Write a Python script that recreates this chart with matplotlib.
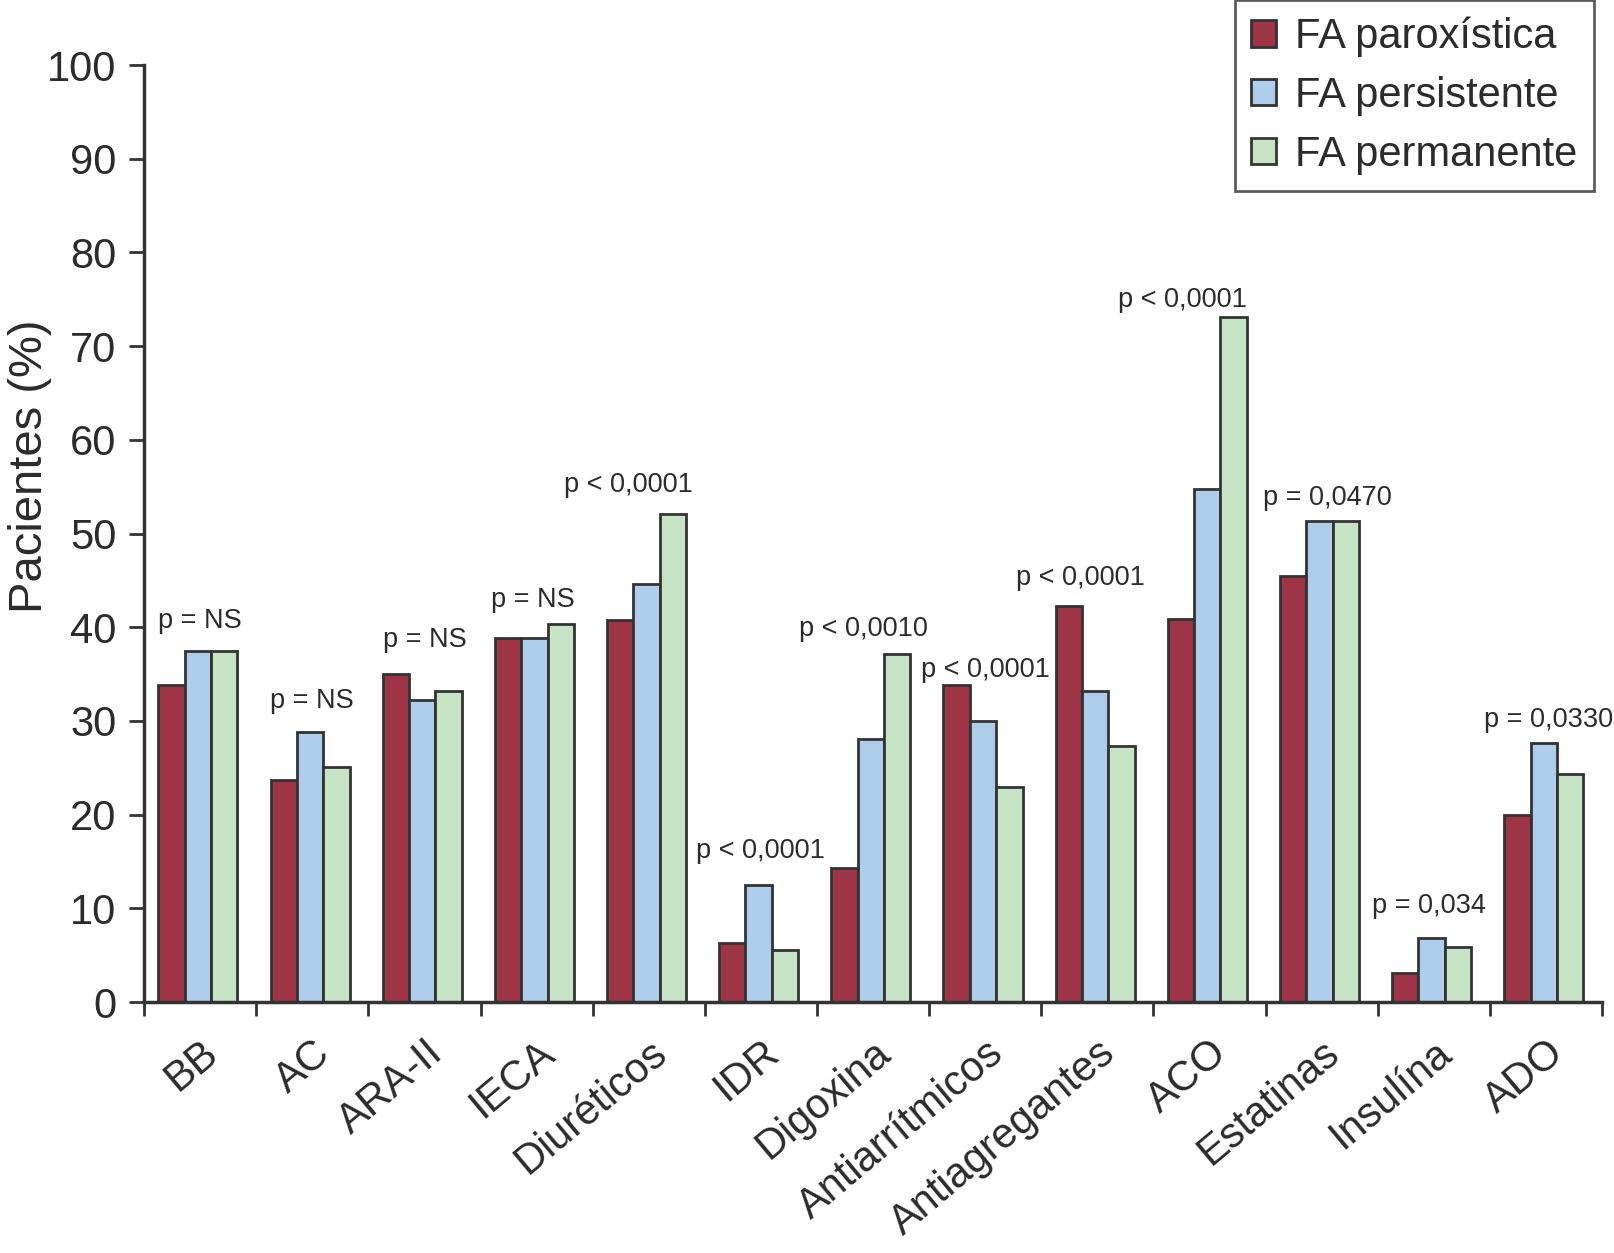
import numpy as np
import matplotlib
matplotlib.use("Agg")
import matplotlib.pyplot as plt

plt.rcParams["font.family"] = ["Liberation Sans", "DejaVu Sans"]

categories = ["BB", "AC", "ARA-II", "IECA", "Diuréticos", "IDR", "Digoxina",
              "Antiarrítmicos", "Antiagregantes", "ACO", "Estatinas", "Insulína", "ADO"]
series_names = ["FA paroxística", "FA persistente", "FA permanente"]
paroxistica = [33.8, 23.7, 35.0, 38.8, 40.8, 6.3, 14.3, 33.8, 42.3, 40.9, 45.5, 3.1, 20.0]
persistente = [37.5, 28.8, 32.2, 38.8, 44.6, 12.5, 28.1, 30.0, 33.2, 54.7, 51.3, 6.8, 27.6]
permanente = [37.5, 25.1, 33.2, 40.3, 52.1, 5.5, 37.1, 23.0, 27.3, 73.1, 51.3, 5.9, 24.3]
p_labels = ["p = NS", "p = NS", "p = NS", "p = NS", "p < 0,0001", "p < 0,0001",
            "p < 0,0010", "p < 0,0001", "p < 0,0001", "p < 0,0001", "p = 0,0470",
            "p = 0,034", "p = 0,0330"]

colors = ["#9E3547", "#AECDEB", "#C6E3C5"]
edge = "#333333"
text_col = "#2b2b2b"

# nudges for the p-value labels (x in category units, y in % above tallest bar)
label_dx = [0, 0, 0, -0.03, -0.18, 0, -0.09, 0, -0.15, -0.24, 0.05, -0.04, 0.02]
label_dy = [3.2, 3.3, 3.6, 2.6, 3.1, 3.6, 2.7, 1.6, 3.0, 1.8, 2.5, 3.4, 2.5]

fig = plt.figure(figsize=(16.15, 12.53), dpi=100)
ax = fig.add_axes([0.0892, 0.2003, 0.9028, 0.7478])

x = np.arange(len(categories))
w = 0.235
for i, vals in enumerate([paroxistica, persistente, permanente]):
    ax.bar(x + (i - 1) * w - 0.02, vals, width=w, color=colors[i], edgecolor=edge,
           linewidth=2.0, label=series_names[i], zorder=2)

tops = np.max([paroxistica, persistente, permanente], axis=0)
for i, lab in enumerate(p_labels):
    ax.text(x[i] + label_dx[i], tops[i] + label_dy[i], lab, ha="center", va="center",
            fontsize=19.5, color=text_col)

ax.set_xlim(-0.5, len(categories) - 0.5)
ax.set_ylim(0, 100)
ax.set_yticks(np.arange(0, 101, 10))
ax.tick_params(axis="y", labelsize=30, length=11, width=2, colors=edge,
               labelcolor=text_col, pad=9)

ax.set_xticks(np.arange(-0.5, len(categories), 1.0))
ax.set_xticklabels([])
ax.tick_params(axis="x", which="major", length=10, width=2, colors=edge)
ax.set_xticks(x, minor=True)
ax.set_xticklabels(categories, minor=True, rotation=40, ha="right",
                   rotation_mode="anchor", fontsize=30, color=text_col)
ax.tick_params(axis="x", which="minor", length=0, pad=22)

for s in ["top", "right"]:
    ax.spines[s].set_visible(False)
for s in ["left", "bottom"]:
    ax.spines[s].set_linewidth(2.5)
    ax.spines[s].set_color(edge)

ax.set_ylabel("Pacientes (%)", fontsize=34, color=text_col)
ax.yaxis.set_label_coords(-0.063, 0.572)

leg = ax.legend(loc="upper right", bbox_to_anchor=(0.987, 1.0),
                bbox_transform=fig.transFigure, fontsize=30, frameon=True,
                fancybox=False, handlelength=0.6, handleheight=0.6,
                handletextpad=0.45, labelspacing=0.45, borderpad=0.4,
                borderaxespad=0)
leg.get_frame().set_edgecolor(edge)
leg.get_frame().set_linewidth(2.0)
for t in leg.get_texts():
    t.set_color(text_col)

fig.savefig("out.png", dpi=100)
